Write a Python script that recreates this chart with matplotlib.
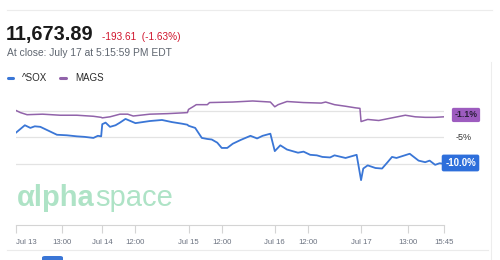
import matplotlib
matplotlib.use("Agg")
import matplotlib.pyplot as plt
from matplotlib.lines import Line2D
from matplotlib.patches import FancyBboxPatch
import matplotlib.transforms as mtransforms

plt.rcParams['font.family'] = ['Liberation Sans', 'DejaVu Sans']

# ---------------- data ----------------
title_value = "11,673.89"
title_change = "-193.61  (-1.63%)"
subtitle = "At close: July 17 at 5:15:59 PM EDT"
series_names = ["^SOX", "MAGS"]

sox_time = ["13 09:30", "13 10:10", "13 10:35", "13 10:55", "13 11:20", "13 12:05", "13 12:35",
            "13 13:20", "13 14:05", "13 14:40", "13 15:20", "13 15:40", "13 15:55",
            "14 09:30", "14 09:45", "14 10:05", "14 10:30", "14 10:50", "14 11:15", "14 12:00",
            "14 13:05", "14 14:00", "14 14:45", "14 15:30", "14 15:55",
            "15 09:30", "15 10:00", "15 10:30", "15 10:55", "15 11:15", "15 11:40", "15 12:00",
            "15 12:25", "15 12:50", "15 13:25", "15 14:10", "15 14:40", "15 15:05", "15 15:40",
            "16 09:30", "16 09:55", "16 10:25", "16 11:15", "16 11:40", "16 12:10", "16 12:40",
            "16 13:05", "16 13:40", "16 14:00", "16 14:50", "16 15:40",
            "17 09:30", "17 09:40", "17 10:00", "17 10:35", "17 11:05", "17 11:30", "17 11:50",
            "17 12:10", "17 12:40", "17 13:10", "17 13:50", "17 14:20", "17 14:40", "17 15:05",
            "17 15:25", "17 15:45"]
sox_pct = [-4.1, -2.7, -3.2, -2.9, -3.0, -3.9, -4.5,
           -4.6, -4.8, -4.9, -5.1, -4.7, -4.8,
           -2.5, -2.2, -3.0, -2.7, -2.2, -1.5, -2.3,
           -1.9, -1.7, -2.1, -2.4, -2.6,
           -2.8, -3.2, -5.1, -5.3, -5.4, -6.0, -7.0,
           -7.0, -6.2, -5.5, -4.7, -5.2, -4.7, -4.3,
           -7.6, -6.5, -7.3, -7.9, -7.7, -8.3, -8.4,
           -8.7, -8.8, -8.4, -8.9, -8.3,
           -13.1, -10.9, -10.3, -10.8, -10.9, -9.7, -8.7,
           -8.9, -8.5, -8.1, -9.4, -9.7, -9.4, -10.2,
           -9.9, -10.0]

mags_time = ["13 09:30", "13 09:50", "13 10:20", "13 11:30", "13 12:50", "13 14:05", "13 15:20", "13 15:55",
             "14 09:30", "14 10:05", "14 10:50", "14 11:25", "14 11:50", "14 13:05", "14 14:25", "14 15:35",
             "14 15:55",
             "15 09:30", "15 09:50", "15 10:05", "15 10:55", "15 11:05", "15 12:50", "15 14:20", "15 15:40",
             "16 09:30", "16 09:45", "16 10:25", "16 11:40", "16 13:00", "16 13:20", "16 14:00", "16 14:50",
             "16 15:35", "16 15:55",
             "17 09:30", "17 10:00", "17 10:50", "17 11:50", "17 12:50", "17 13:35", "17 14:20", "17 15:05",
             "17 15:45"]
mags_pct = [0.1, -0.3, -0.7, -0.6, -0.8, -0.8, -1.0, -1.2,
            -1.3, -1.1, -0.6, -0.6, -0.95, -0.6, -0.5, -0.35,
            -0.3,
            0.3, 0.8, 1.2, 1.2, 1.6, 1.7, 1.9, 1.7,
            0.8, 1.2, 1.8, 1.6, 1.5, 1.7, 1.2, 0.9,
            0.6, 0.5,
            -2.0, -1.6, -1.8, -1.3, -0.8, -1.1, -1.2, -1.2,
            -1.1]

tick_times = ["13 09:30", "13 13:00", "14 09:30", "14 12:00", "15 09:30", "15 12:00",
              "16 09:30", "16 12:00", "17 09:30", "17 13:00", "17 15:45"]
tick_labels = ["Jul 13", "13:00", "Jul 14", "12:00", "Jul 15", "12:00",
               "Jul 16", "12:00", "Jul 17", "13:00", "15:45"]
grid_levels = [0, -5, -10]
axis_label_level = -5
axis_label_text = "-5%"


def to_hours(s):
    d, t = s.split()
    hh, mm = t.split(":")
    return (int(d) - 13) * 6.5 + (int(hh) * 60 + int(mm) - 570) / 60.0


sox_x = [to_hours(s) for s in sox_time]
mags_x = [to_hours(s) for s in mags_time]
tick_x = [to_hours(s) for s in tick_times]

# ---------------- figure ----------------
W, H = 500, 260
fig = plt.figure(figsize=(W / 100, H / 100), dpi=100)
fig.patch.set_facecolor("white")

def fx(px):
    return px / W

def fy(py):
    return 1 - py / H

SOX_C = "#3a76d6"
MAGS_C = "#9163aa"

# axes: x 16..444 px, y 90..225 px
ax = fig.add_axes([fx(16), fy(225), fx(444) - fx(16), fy(90) - fy(225)])
ax.set_facecolor("none")
ax.set_xlim(0, to_hours("17 15:45"))
ax.set_ylim(-21.6, 3.98)

for g in grid_levels:
    ax.axhline(g, color="#e3e3e3", lw=0.9, zorder=1)

ax.plot(mags_x, mags_pct, color=MAGS_C, lw=1.1, zorder=3, solid_joinstyle="round")
ax.plot(sox_x, sox_pct, color=SOX_C, lw=1.3, zorder=4, solid_joinstyle="round")

for s in ["top", "left", "right"]:
    ax.spines[s].set_visible(False)
ax.spines["bottom"].set_color("#d4d4d4")
ax.spines["bottom"].set_linewidth(0.8)
ax.set_yticks([])
ax.set_xticks(tick_x)
ax.set_xticklabels(tick_labels)
ax.tick_params(axis="x", direction="out", length=5.5, width=0.8, color="#d4d4d4",
               labelsize=5.6, labelcolor="#6b7280", pad=4.5)
ax.get_xticklabels()[0].set_horizontalalignment("left")

# right-side labels
trans = mtransforms.blended_transform_factory(ax.transAxes, ax.transData)
ax.text((464 - 16) / 428, axis_label_level, axis_label_text, transform=trans,
        ha="center", va="center", fontsize=6.5, color="#333333", clip_on=False)
ax.text((466 - 16) / 428, mags_pct[-1] + 0.35, f"{mags_pct[-1]:.1f}%", transform=trans,
        ha="center", va="center", fontsize=6.3, color="#2a1f3a", fontweight="bold",
        clip_on=False, zorder=6,
        bbox=dict(boxstyle="round,pad=0.3,rounding_size=0.2", fc="#9d5cbf", ec="none"))
ax.text((460.5 - 16) / 428, sox_pct[-1] + 0.15, f"{sox_pct[-1]:.1f}%", transform=trans,
        ha="center", va="center", fontsize=7, color="white", fontweight="bold",
        clip_on=False, zorder=6,
        bbox=dict(boxstyle="round,pad=0.35,rounding_size=0.2", fc="#2e6fdb", ec="none"))

# header
fig.add_artist(Line2D([fx(7), fx(492)], [fy(10), fy(10)], color="#ececec", lw=0.8))
fig.text(fx(6), fy(34.5), title_value, fontsize=14.3, fontweight="bold", color="#1a1a1a",
         ha="left", va="center")
fig.text(fx(102), fy(37.5), title_change, fontsize=7.2, color="#d0142c", ha="left", va="center")
fig.text(fx(7), fy(53.5), subtitle, fontsize=7.4, color="#5f6670", ha="left", va="center")

# legend
fig.add_artist(Line2D([fx(8), fx(13)], [fy(78), fy(78)], color=SOX_C, lw=2.2, solid_capstyle="round"))
fig.text(fx(22), fy(78), series_names[0], fontsize=7, color="#2b2b2b", ha="left", va="center")
fig.add_artist(Line2D([fx(60), fx(66)], [fy(78), fy(78)], color=MAGS_C, lw=2.2, solid_capstyle="round"))
fig.text(fx(75), fy(78), series_names[1], fontsize=7, color="#2b2b2b", ha="left", va="center")

# watermark
wm1 = fig.text(fx(17), fy(198), "αlpha", fontsize=21, fontweight="bold", color="#aee3c6",
               ha="left", va="center", zorder=0)
fig.canvas.draw()
bb = wm1.get_window_extent()
fig.text(bb.x1 / W, fy(198), "space", fontsize=21, color="#aee3c6", ha="left", va="center", zorder=0)

# bottom decorations
fig.add_artist(Line2D([fx(7), fx(488)], [fy(250), fy(250)], color="#ebebeb", lw=0.8))
fig.add_artist(Line2D([fx(491), fx(491)], [fy(62), fy(260)], color="#ededed", lw=0.8))
fig.add_artist(FancyBboxPatch((fx(42), fy(262)), fx(21), fy(256) - fy(262),
                              boxstyle="round,pad=0,rounding_size=0.006", fc="#3a76d6", ec="none",
                              transform=fig.transFigure))

fig.savefig("out.png", dpi=100, facecolor="white")
